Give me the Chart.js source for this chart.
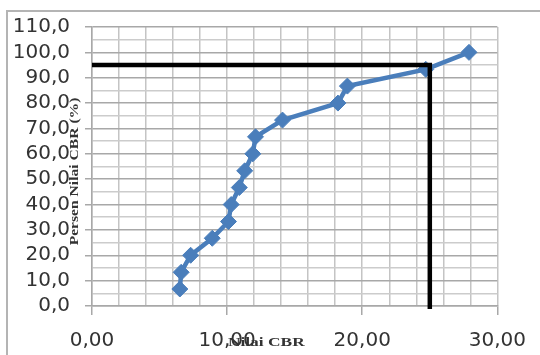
<!DOCTYPE html>
<html>
<head>
<meta charset="utf-8">
<script src="https://cdn.jsdelivr.net/npm/chart.js@4/dist/chart.umd.min.js"></script>
<style>
  html, body { margin: 0; padding: 0; background: #fff; }
  #wrap { position: relative; width: 540px; height: 355px; overflow: hidden; }
  #frame { position: absolute; left: 6px; top: 10px; width: 600px; height: 400px;
           border-top: 2px solid #b4b4b4; border-left: 2px solid #b4b4b4; }
  canvas { position: absolute; left: 0; top: 0; }
</style>
</head>
<body>
<div id="wrap">
  <div id="frame"></div>
  <canvas id="cbrChart" width="540" height="355"></canvas>
</div>
<script>
// nilai CBR (x) vs persen nilai CBR (y)
const cbrValues = [6.5, 6.6, 7.3, 8.9, 10.1, 10.3, 10.9, 11.3, 11.9, 12.1, 14.1, 18.2, 18.9, 24.7, 27.9];
const persenValues = [6.7, 13.3, 20.0, 26.7, 33.3, 40.0, 46.7, 53.3, 60.0, 66.7, 73.3, 80.0, 86.7, 93.3, 100.0];

// garis bantu (95 %)
const refX = [0, 25, 25];
const refY = [95, 95, -1.2];

const xTitle = "Nilai CBR";
const yTitle = "Persen Nilai CBR (%)";

const toPoints = (xs, ys) => xs.map((x, i) => ({ x: x, y: ys[i] }));

// judul sumbu ditimpa di atas label, seperti di Excel
const axisTitles = {
  id: "axisTitles",
  afterDraw(chart) {
    const { ctx, chartArea } = chart;
    ctx.save();
    ctx.fillStyle = "#333";
    ctx.font = 'bold 12px "Liberation Serif"';
    ctx.textAlign = "center";
    ctx.textBaseline = "middle";

    ctx.save();
    ctx.translate(chartArea.left - 17, (chartArea.top + chartArea.bottom) / 2 + 5);
    ctx.rotate(-Math.PI / 2);
    ctx.scale(1.3, 1);
    ctx.fillText(yTitle, 0, 0);
    ctx.restore();

    ctx.save();
    ctx.translate(chartArea.left + (chartArea.right - chartArea.left) * 0.43, chartArea.bottom + 37);
    ctx.scale(1.45, 1);
    ctx.fillText(xTitle, 0, 0);
    ctx.restore();
    ctx.restore();
  }
};

const ctx = document.getElementById("cbrChart");
new Chart(ctx, {
  type: "scatter",
  data: {
    datasets: [
      {
        data: toPoints(refX, refY),
        showLine: true,
        borderColor: "#000",
        borderWidth: 4.5,
        pointRadius: 0,
        clip: false
      },
      {
        data: toPoints(cbrValues, persenValues),
        showLine: true,
        borderColor: "#4a7ebb",
        backgroundColor: "#4a7ebb",
        borderWidth: 4.5,
        pointStyle: "rectRot",
        pointRadius: 8,
        pointBorderWidth: 1,
        tension: 0
      }
    ]
  },
  options: {
    responsive: false,
    animation: false,
    layout: { padding: { left: 0, top: 27, right: 42, bottom: 0 } },
    plugins: { legend: { display: false }, tooltip: { enabled: false } },
    scales: {
      x: {
        min: 0,
        max: 30,
        afterFit: (s) => { s.height = 49; },
        border: { color: "#a8a8a8", width: 1.5 },
        grid: {
          color: "#c4c4c4",
          lineWidth: 1.5,
          tickLength: 9,
          tickColor: (c) => (c.tick && c.tick.value % 10 === 0 ? "#a8a8a8" : "rgba(0,0,0,0)")
        },
        ticks: {
          stepSize: 2,
          autoSkip: false,
          maxRotation: 0,
          padding: 14,
          color: "#333",
          font: { family: "DejaVu Sans", size: 20 },
          callback: (v) => (v % 10 === 0 ? v.toFixed(2).replace(".", ",") : "")
        }
      },
      y: {
        min: 0,
        max: 110,
        afterFit: (s) => { s.width = 92; },
        border: { color: "#a8a8a8", width: 1.5 },
        grid: {
          color: (c) => (c.tick && c.tick.value % 10 === 0 ? "#a8a8a8" : "#cccccc"),
          lineWidth: 1.5,
          tickLength: 7,
          tickColor: (c) => (c.tick && c.tick.value % 10 === 0 ? "#a8a8a8" : "rgba(0,0,0,0)")
        },
        ticks: {
          stepSize: 5,
          autoSkip: false,
          padding: 15,
          color: "#333",
          font: { family: "DejaVu Sans", size: 20 },
          callback: (v) => (v % 10 === 0 ? v.toFixed(1).replace(".", ",") : "")
        }
      }
    }
  },
  plugins: [axisTitles]
});
</script>
</body>
</html>
